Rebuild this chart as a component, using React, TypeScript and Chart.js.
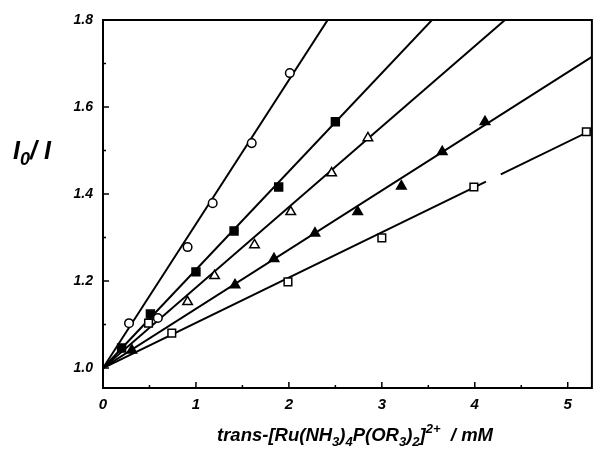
import React, { useEffect, useRef } from "react";
import { Chart, registerables } from "chart.js";
Chart.register(...registerables);

const X_MIN = 0;
const X_MAX = 5.26;
const Y_MIN = 0.954;
const Y_MAX = 1.8;

const xTickValues = [0, 1, 2, 3, 4, 5];
const xMinorValues = [0.5, 1.5, 2.5, 3.5, 4.5];
const yTickValues = [1.0, 1.2, 1.4, 1.6, 1.8];
const yMinorValues = [1.1, 1.3, 1.5, 1.7];

// open circles
const openCircleX = [0.28, 0.59, 0.91, 1.18, 1.6, 2.01];
const openCircleY = [1.103, 1.115, 1.278, 1.379, 1.517, 1.678];
// filled squares
const filledSquareX = [0.2, 0.51, 1.0, 1.41, 1.89, 2.5];
const filledSquareY = [1.046, 1.124, 1.221, 1.315, 1.416, 1.566];
// open triangles
const openTriX = [0.91, 1.2, 1.63, 2.02, 2.46, 2.85];
const openTriY = [1.152, 1.212, 1.283, 1.359, 1.448, 1.529];
// filled triangles
const filledTriX = [0.31, 1.42, 1.84, 2.28, 2.74, 3.21, 3.65, 4.11];
const filledTriY = [1.041, 1.191, 1.251, 1.31, 1.359, 1.418, 1.497, 1.566];
// open squares
const openSquareX = [0.49, 0.74, 1.99, 3.0, 3.99, 5.2];
const openSquareY = [1.103, 1.08, 1.198, 1.299, 1.416, 1.543];

// fitted lines: intercept and slope, with visible segments
const fitIntercepts = [1.0, 1.0, 1.0, 1.0, 1.0];
const fitSlopes = [0.331, 0.226, 0.185, 0.136, 0.104];
const fitSegments: number[][][] = [
  [[0, X_MAX]],
  [[0, X_MAX]],
  [[0, X_MAX]],
  [[0, X_MAX]],
  [[0, 4.12], [4.28, X_MAX]],
];

const FONT = "'Liberation Sans', Arial, Helvetica, sans-serif";

type Seg = { t: string; k?: "sub" | "sup" };

function drawRich(ctx: CanvasRenderingContext2D, segs: Seg[], cx: number, baseY: number, size: number) {
  const big = `italic bold ${size}px ${FONT}`;
  const small = `italic bold ${Math.round(size * 0.72)}px ${FONT}`;
  let total = 0;
  for (const s of segs) {
    ctx.font = s.k ? small : big;
    total += ctx.measureText(s.t).width;
  }
  let x = cx - total / 2;
  ctx.textBaseline = "alphabetic";
  ctx.textAlign = "left";
  for (const s of segs) {
    ctx.font = s.k ? small : big;
    let y = baseY;
    if (s.k === "sub") y += size * 0.25;
    if (s.k === "sup") y -= size * 0.42;
    ctx.fillText(s.t, x, y);
    x += ctx.measureText(s.t).width;
  }
}

const framePlugin = {
  id: "frameTicks",
  afterDraw(chart: any) {
    const { ctx, chartArea } = chart;
    const xs = chart.scales.x;
    const ys = chart.scales.y;
    ctx.save();
    ctx.strokeStyle = "#000";
    ctx.fillStyle = "#000";
    ctx.lineWidth = 2;
    ctx.strokeRect(chartArea.left, chartArea.top, chartArea.right - chartArea.left, chartArea.bottom - chartArea.top);
    ctx.lineWidth = 1.5;
    ctx.beginPath();
    for (const v of xTickValues) {
      const px = xs.getPixelForValue(v);
      ctx.moveTo(px, chartArea.bottom);
      ctx.lineTo(px, chartArea.bottom - 6);
    }
    for (const v of xMinorValues) {
      const px = xs.getPixelForValue(v);
      ctx.moveTo(px, chartArea.bottom);
      ctx.lineTo(px, chartArea.bottom - 3);
    }
    for (const v of yTickValues) {
      const py = ys.getPixelForValue(v);
      ctx.moveTo(chartArea.left, py);
      ctx.lineTo(chartArea.left + 6, py);
    }
    for (const v of yMinorValues) {
      const py = ys.getPixelForValue(v);
      ctx.moveTo(chartArea.left, py);
      ctx.lineTo(chartArea.left + 3, py);
    }
    ctx.stroke();

    // axis titles
    drawRich(
      ctx,
      [
        { t: "trans-[Ru(NH" },
        { t: "3", k: "sub" },
        { t: ")" },
        { t: "4", k: "sub" },
        { t: "P(OR" },
        { t: "3", k: "sub" },
        { t: ")" },
        { t: "2", k: "sub" },
        { t: "]" },
        { t: "2+", k: "sup" },
        { t: "  / mM" },
      ],
      355,
      441,
      18.5
    );
    drawRich(ctx, [{ t: "I" }, { t: "0", k: "sub" }, { t: "/ I" }], 32, 159, 25);
    ctx.restore();
  },
};

function pts(xs: number[], ys: number[]) {
  return xs.map((x, i) => ({ x, y: ys[i] }));
}

export default function App() {
  const ref = useRef<HTMLCanvasElement | null>(null);
  useEffect(() => {
    if (!ref.current) return;
    const markerBase = { type: "scatter" as const, showLine: false, borderColor: "#000", borderWidth: 1.5, order: 1 };
    const markers: any[] = [
      { ...markerBase, data: pts(openCircleX, openCircleY), pointStyle: "circle", pointRadius: 4.3, backgroundColor: "#fff" },
      { ...markerBase, data: pts(filledSquareX, filledSquareY), pointStyle: "rect", pointRadius: 5.6, backgroundColor: "#000" },
      { ...markerBase, data: pts(openTriX, openTriY), pointStyle: "triangle", pointRadius: 5.5, backgroundColor: "#fff" },
      { ...markerBase, data: pts(filledTriX, filledTriY), pointStyle: "triangle", pointRadius: 5.5, backgroundColor: "#000" },
      { ...markerBase, data: pts(openSquareX, openSquareY), pointStyle: "rect", pointRadius: 5.4, backgroundColor: "#fff" },
    ];
    const lines: any[] = [];
    fitSlopes.forEach((slope, i) => {
      fitSegments[i].forEach((seg) => {
        lines.push({
          type: "line",
          data: seg.map((x) => ({ x, y: fitIntercepts[i] + slope * x })),
          borderColor: "#000",
          borderWidth: 2,
          pointRadius: 0,
          fill: false,
          order: 10,
        });
      });
    });
    const chart = new Chart(ref.current, {
      type: "scatter",
      data: { datasets: [...lines, ...markers] },
      plugins: [framePlugin],
      options: {
        animation: false,
        responsive: false,
        maintainAspectRatio: false,
        layout: { padding: { left: 0, top: 20, right: 3, bottom: 0 } },
        plugins: { legend: { display: false }, tooltip: { enabled: false } },
        scales: {
          x: {
            type: "linear",
            min: X_MIN,
            max: X_MAX,
            border: { display: false },
            grid: { display: false, drawTicks: false },
            afterBuildTicks: (s: any) => {
              s.ticks = xTickValues.map((v) => ({ value: v }));
            },
            afterFit: (s: any) => {
              s.height = 449 - 388;
            },
            ticks: {
              padding: 8,
              color: "#000",
              font: { family: FONT, size: 15, style: "italic", weight: "bold" },
              callback: (v: any) => String(v),
              maxRotation: 0,
            },
          },
          y: {
            type: "linear",
            min: Y_MIN,
            max: Y_MAX,
            border: { display: false },
            grid: { display: false, drawTicks: false },
            afterBuildTicks: (s: any) => {
              s.ticks = yTickValues.map((v) => ({ value: v }));
            },
            afterFit: (s: any) => {
              s.width = 103;
            },
            ticks: {
              padding: 10,
              color: "#000",
              font: { family: FONT, size: 14, style: "italic", weight: "bold" },
              callback: (v: any) => Number(v).toFixed(1),
            },
          },
        },
      },
    });
    return () => chart.destroy();
  }, []);
  return (
    <div style={{ position: "absolute", left: 0, top: 0, width: 599, height: 449, background: "#fff" }}>
      <canvas ref={ref} width={599} height={449} style={{ display: "block", width: 599, height: 449 }} />
    </div>
  );
}
